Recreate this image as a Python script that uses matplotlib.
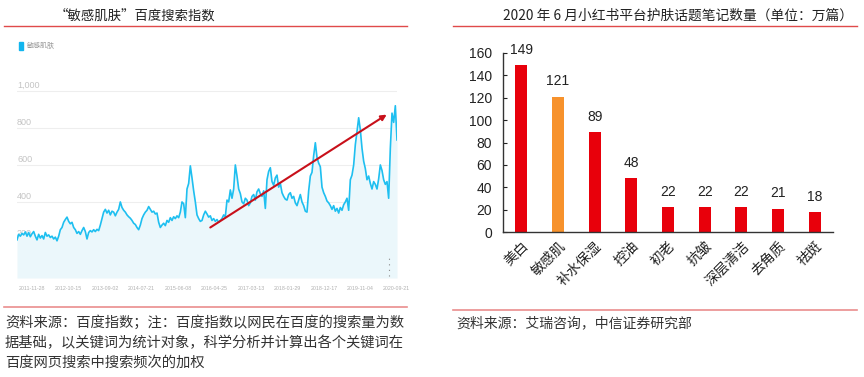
import numpy as np
import pandas as pd
import matplotlib
matplotlib.use("Agg")
import matplotlib.pyplot as plt
from matplotlib.lines import Line2D
from matplotlib.patches import Rectangle

plt.rcParams['font.family'] = ['Liberation Sans', 'Noto Sans CJK SC', 'DejaVu Sans']
CJK = ['Noto Sans CJK SC', 'DejaVu Sans']

# ---- left panel: Baidu index of "敏感肌肤" ----
index_start = "2011-07-16"
index_end = "2020-09-24"
index_vals = [
    195, 225, 215, 230, 222, 238, 215, 235, 212, 228, 240, 215, 195, 225, 205, 218,
    200, 235, 215, 222, 208, 215, 200, 210, 190, 215, 250, 262, 290, 305, 318, 295,
    282, 290, 262, 250, 230, 240, 225, 245, 262, 240, 200, 235, 245, 238, 250, 240,
    252, 245, 275, 310, 345, 360, 340, 355, 330, 350, 345, 325, 345, 360, 400, 370,
    355, 345, 330, 320, 312, 300, 285, 278, 262, 250, 275, 310, 330, 345, 355, 375,
    360, 345, 350, 335, 340, 290, 262, 275, 285, 272, 300, 290, 315, 300, 320, 310,
    325, 315, 345, 400, 390, 315, 470, 500, 595, 530, 460, 400, 330, 310, 295, 300,
    330, 350, 335, 318, 325, 300, 310, 295, 305, 290, 300, 310, 330, 320, 410, 400,
    465, 420, 470, 600, 540, 470, 445, 400, 390, 420, 410, 380, 395, 430, 440, 410,
    455, 470, 445, 430, 460, 365, 520, 565, 585, 510, 490, 530, 545, 480, 500, 450,
    430, 415, 410, 440, 450, 420, 430, 395, 380, 410, 440, 400, 380, 350, 345, 460,
    540, 560, 650, 720, 640, 610, 590, 480, 450, 430, 405, 395, 380, 360, 380, 350,
    365, 340, 370, 355, 385, 400, 420, 355, 520, 545, 600, 710, 780, 855, 790, 690,
    620, 580, 520, 540, 500, 470, 510, 495, 470, 525, 600, 570, 520, 495, 510, 420,
    690, 880, 830, 920, 735,
]
index_ticks = ["2011-11-28", "2012-10-15", "2013-09-02", "2014-07-21", "2015-06-08",
               "2016-04-25", "2017-03-13", "2018-01-29", "2018-12-17", "2019-11-04",
               "2020-09-21"]
index_grid = [200, 400, 600, 800, 1000]
index_grid_labels = ["200", "400", "600", "800", "1,000"]
trend_start = ("2016-03-19", 262)
trend_end = ("2020-06-25", 872)

# ---- right panel: 小红书 notes by topic, June 2020 (万篇) ----
topics = ["美白", "敏感肌", "补水保湿", "控油", "初老", "抗皱", "深层清洁", "去角质", "祛斑"]
notes = [149, 121, 89, 48, 22, 22, 22, 21, 18]
highlight = "敏感肌"

W, H = 864, 377
fig = plt.figure(figsize=(W / 100, H / 100), dpi=100)


def fx(px):
    return px / W


def fy(py):
    return 1 - py / H


def hline(x0, x1, y, color, lw=1.0):
    fig.add_artist(Line2D([fx(x0), fx(x1)], [fy(y), fy(y)], color=color, lw=lw))


# titles and rule lines
fig.text(fx(55), fy(16), "“敏感肌肤”百度搜索指数", fontsize=9.6, color="#222222",
         ha="left", va="center", family=CJK)
fig.text(fx(853), fy(16), "2020 年 6 月小红书平台护肤话题笔记数量（单位：万篇）",
         fontsize=9.9, color="#222222", ha="right", va="center", family=CJK)
hline(4, 407, 26, "#E04A4A")
hline(453, 857, 26, "#E04A4A")
hline(4, 407, 307, "#EA8E8E", 1.2)
hline(453, 857, 310, "#EA8E8E", 1.2)

# footnotes
note_left = ["资料来源：百度指数；注：百度指数以网民在百度的搜索量为数",
             "据基础，以关键词为统计对象，科学分析并计算出各个关键词在",
             "百度网页搜索中搜索频次的加权"]
for i, line in enumerate(note_left):
    fig.text(fx(5), fy(322 + 20.5 * i), line, fontsize=10.3, color="#333333",
             ha="left", va="center", family=CJK)
fig.text(fx(456), fy(323), "资料来源：艾瑞咨询，中信证券研究部", fontsize=10,
         color="#333333", ha="left", va="center", family=CJK)

# ---- left chart ----
ax1 = fig.add_axes([fx(17), fy(278), (397 - 17) / W, (278 - 85) / H])
dates = pd.date_range(index_start, index_end, periods=len(index_vals))
vals = np.array(index_vals)
ax1.set_ylim(-11, 1032)
ax1.set_xlim(dates[0], dates[-1])
for g, lab in zip(index_grid, index_grid_labels):
    ax1.axhline(g, color="#EEEEEE", lw=0.8, zorder=0)
    ax1.text(0.0, g + 30, lab, transform=ax1.get_yaxis_transform(), fontsize=6.5,
             color="#C4C4C4", ha="left", va="center", zorder=0)
ax1.fill_between(dates, vals, -11, color="#EBF7FB", lw=0, zorder=1)
ax1.plot(dates, vals, color="#1EBFF0", lw=1.2, zorder=2)
ax1.plot([pd.Timestamp("2020-07-12")] * 2, [0, 115], ls=(0, (1, 4)), color="#888888",
         lw=0.8, zorder=2)
ax1.annotate("", xy=(pd.Timestamp(trend_end[0]), trend_end[1]),
             xytext=(pd.Timestamp(trend_start[0]), trend_start[1]),
             arrowprops=dict(arrowstyle="-|>", color="#C8101A", lw=1.5,
                             mutation_scale=8, shrinkA=0, shrinkB=0), zorder=3)
ax1.set_xticks(pd.to_datetime(index_ticks))
ax1.set_xticklabels(index_ticks)
ax1.tick_params(axis="x", length=0, labelsize=3.8, labelcolor="#B0B0B0", pad=6)
ax1.set_yticks([])
for s in ax1.spines.values():
    s.set_visible(False)

# legend chip
fig.add_artist(Rectangle((fx(19), fy(50)), 4 / W, 8 / H, color="#12B5EE",
                         transform=fig.transFigure))
fig.text(fx(27), fy(46), "敏感肌肤", fontsize=5, color="#9A9A9A", ha="left",
         va="center", family=CJK)

# ---- right chart ----
ax2 = fig.add_axes([fx(503), fy(232), (833 - 503) / W, (232 - 53) / H])
x = np.arange(len(topics))
colors = ["#F7922C" if t == highlight else "#E8000B" for t in topics]
ax2.bar(x, notes, width=0.32, color=colors, zorder=2)
for xi, v in zip(x, notes):
    ax2.annotate(str(v), (xi, v), xytext=(0, 6), textcoords="offset points",
                 ha="center", va="bottom", fontsize=10, color="#222222")
ax2.set_xlim(-0.5, len(topics) - 0.5)
ax2.set_ylim(0, 160)
ax2.set_yticks(range(0, 161, 20))
ax2.set_xticks(x)
ax2.set_xticklabels(topics, rotation=45, ha="right", rotation_mode="anchor", family=CJK)
ax2.tick_params(axis="y", direction="in", length=3, labelsize=10, pad=8,
                colors="#222222")
ax2.tick_params(axis="x", length=0, labelsize=10, pad=5, colors="#222222")
for side in ("top", "right"):
    ax2.spines[side].set_visible(False)
for side in ("left", "bottom"):
    ax2.spines[side].set_color("#333333")
    ax2.spines[side].set_linewidth(1.0)

fig.savefig("out.png", dpi=100)
